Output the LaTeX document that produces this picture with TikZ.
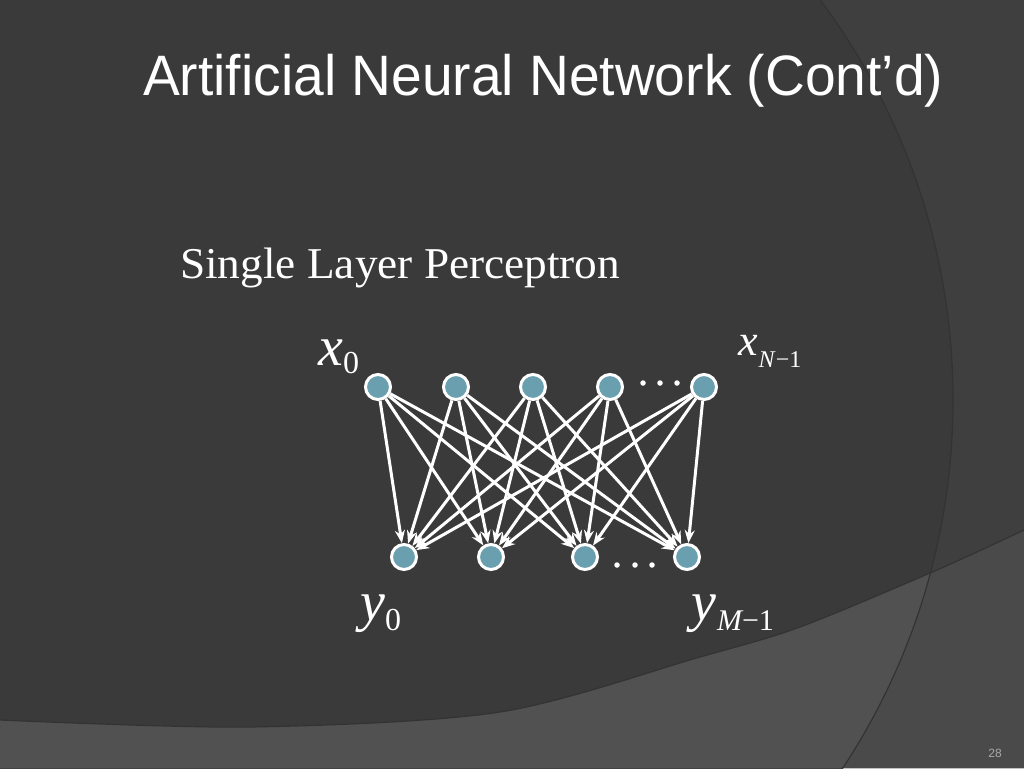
\documentclass[tikz,border=0pt]{standalone}
\usepackage{fontspec}
\usepackage{graphicx}
\usetikzlibrary{arrows.meta}
\setmainfont{Liberation Serif}
\newfontfamily\titlefont{Liberation Sans}
\newfontfamily\numfont{Liberation Sans}
\definecolor{bgmain}{HTML}{3A3A3A}
\definecolor{bgright}{HTML}{3F3F3F}
\definecolor{bandleft}{HTML}{515151}
\definecolor{bandright}{HTML}{4A4A4A}
\definecolor{arcshade}{HTML}{333333}
\definecolor{neuronfill}{HTML}{6A9FB0}
\definecolor{pagenum}{HTML}{A8A8A8}
\tikzset{
  neuron/.style={circle, draw=white, line width=3pt, fill=neuronfill, minimum size=25pt, inner sep=0pt},
  conn/.style={white, line width=3pt, -{Stealth[length=13pt,width=10pt]}},
  dotmark/.style={circle, fill=white, inner sep=0pt, minimum size=5.5pt},
  lbl/.style={anchor=base west, inner sep=0pt, text=white}
}
\begin{document}
\begin{tikzpicture}[x=1pt,y=-1pt]
\useasboundingbox (0,0) rectangle (1024,768);
% background
\fill[bgmain] (0,0) rectangle (1024,768);
\fill[bgright, even odd rule] (0,0) rectangle (1024,768) (284,400) circle (669);
\fill[bandleft] plot[smooth] coordinates {(0,720) (250,727) (500,712) (700,657) (800,627) (937,570) (1024,530)} -- (1024,768) -- (0,768) -- cycle;
\begin{scope}
  \clip plot[smooth] coordinates {(0,720) (250,727) (500,712) (700,657) (800,627) (937,570) (1024,530)} -- (1024,768) -- (0,768) -- cycle;
  \fill[bandright, even odd rule] (0,0) rectangle (1024,768) (284,400) circle (669);
\end{scope}
\draw[arcshade, line width=1.2pt] (284,400) circle (669);
\draw[arcshade, line width=1.2pt] plot[smooth] coordinates {(0,720) (250,727) (500,712) (700,657) (800,627) (937,570) (1024,530)};

% titles
\node[lbl] (title) at (143,95) {\resizebox{800pt}{\height}{\titlefont\fontsize{57}{57}\selectfont Artificial Neural Network (Cont’d)}};
\node[lbl] (sub) at (180,278) {\resizebox{440pt}{\height}{\fontsize{44}{44}\selectfont Single Layer Perceptron}};

% neurons
\node[neuron] (t1) at (378,387) {};
\node[neuron] (t2) at (456,387) {};
\node[neuron] (t3) at (533,387) {};
\node[neuron] (t4) at (610,387) {};
\node[neuron] (t5) at (704,387) {};
\node[neuron] (b1) at (404,557) {};
\node[neuron] (b2) at (491,557) {};
\node[neuron] (b3) at (585,557) {};
\node[neuron] (b4) at (687,557) {};

\foreach \t in {t1,t2,t3,t4,t5}{
  \foreach \b in {b1,b2,b3,b4}{
    \draw[conn] (\t) -- (\b);
  }
}

% dots
\node[dotmark] (d1) at (643,383) {};
\node[dotmark] (d2) at (660,383) {};
\node[dotmark] (d3) at (677,383) {};
\node[dotmark] (e1) at (617,565) {};
\node[dotmark] (e2) at (635,565) {};
\node[dotmark] (e3) at (652,565) {};

% labels
\node[lbl] (lx0) at (318,365) {\fontsize{56}{56}\selectfont\itshape x\raisebox{-8pt}{\fontsize{32}{32}\selectfont\upshape 0}};
\node[lbl] (lxN) at (738,355) {\fontsize{44}{44}\selectfont\itshape x\raisebox{-12pt}{\fontsize{24}{24}\selectfont\kern1pt N\upshape\kern1pt−1}};
\node[lbl] (ly0) at (360,620) {\fontsize{56}{56}\selectfont\itshape y\raisebox{-10pt}{\fontsize{32}{32}\selectfont\upshape 0}};
\node[lbl] (lyM) at (691,620) {\fontsize{56}{56}\selectfont\itshape y\raisebox{-10pt}{\fontsize{30}{30}\selectfont\kern1pt M\upshape−1}};

% page number
\node[anchor=base east, inner sep=0pt, text=pagenum] (pn) at (1002,757) {\numfont\fontsize{12}{12}\selectfont 28};
\end{tikzpicture}
\end{document}
